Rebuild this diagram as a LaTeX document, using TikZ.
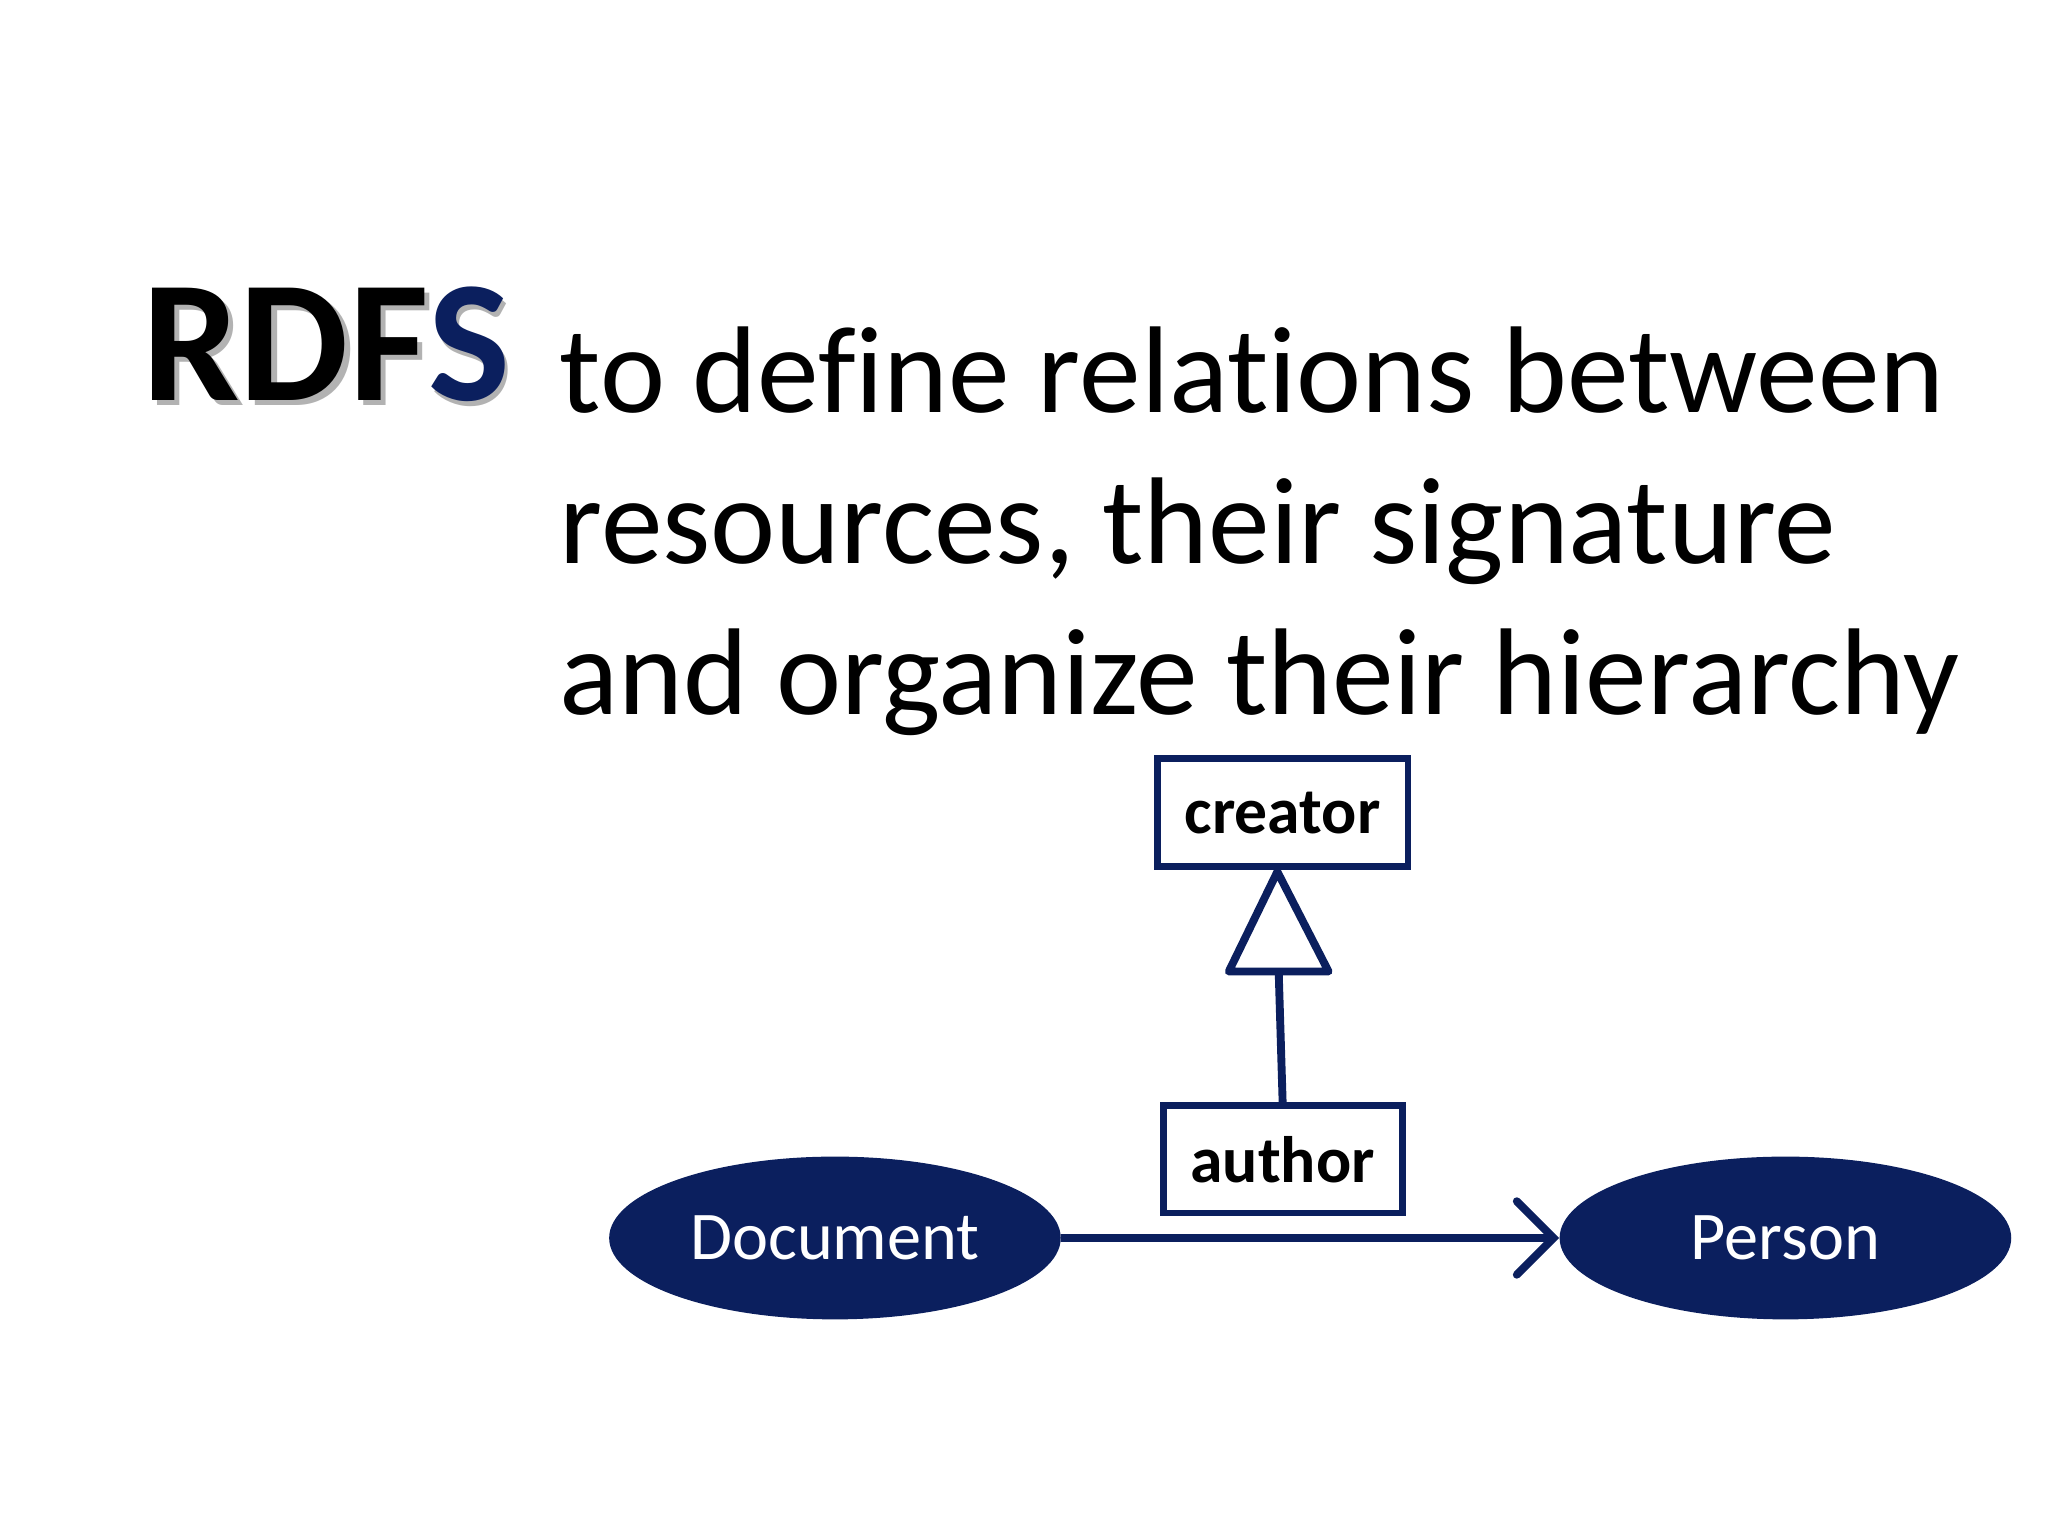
\documentclass[tikz,border=0pt]{standalone}
\usepackage{fontspec}
\setmainfont{Carlito}[Ligatures={NoCommon}]
\usetikzlibrary{arrows.meta,shapes.geometric}
\definecolor{navy}{HTML}{0B1F5E}
\begin{document}
\begin{tikzpicture}[x=0.5pt,y=-0.5pt,
  cls/.style={ellipse,fill=navy,text=white,minimum width=172pt,minimum height=62pt,inner sep=0,font=\fontsize{26}{30}\selectfont},
  prop/.style={draw=navy,line width=2.6pt,font=\bfseries\fontsize{25}{28}\selectfont,inner sep=0,text=black},
  conn/.style={draw=navy,line width=3pt}]
\useasboundingbox (0,0) rectangle (1560,1170);
\node[anchor=base west,inner sep=0,font=\bfseries\fontsize{66}{70}\selectfont,text=gray!60] (sh) at (112,309) {RDFS};
\node[anchor=base west,inner sep=0,font=\bfseries\fontsize{66}{70}\selectfont] (rdfs) at (108,305) {RDF\textcolor{navy}{S}};
\node[anchor=base west,inner sep=0,font=\fontsize{47}{58}\selectfont] (t1) at (426,314) {to define relations between};
\node[anchor=base west,inner sep=0,font=\fontsize{47}{58}\selectfont] (t2) at (426,429) {resources, their signature};
\node[anchor=base west,inner sep=0,font=\fontsize{47}{58}\selectfont] (t3) at (426,544) {and organize their hierarchy};
\node[prop,minimum width=95.5pt,minimum height=41pt] (creator) at (977,619) {creator};
\node[prop,minimum width=91pt,minimum height=41pt] (author) at (977,883) {author};
\node[cls] (doc) at (636,943) {Document};
\node[cls] (per) at (1360,943) {Person};
\coordinate (tb) at (974,740);
\coordinate (apex) at (973,664);
\draw[conn] (author.north) -- (tb);
\draw[conn,line join=round,fill=white] (apex) -- (936,740) -- (1012,740) -- cycle;
\draw[conn,-{Straight Barb[length=14pt,width=28pt,line cap=round]}] (doc.east) -- (per.west);
\end{tikzpicture}
\end{document}
